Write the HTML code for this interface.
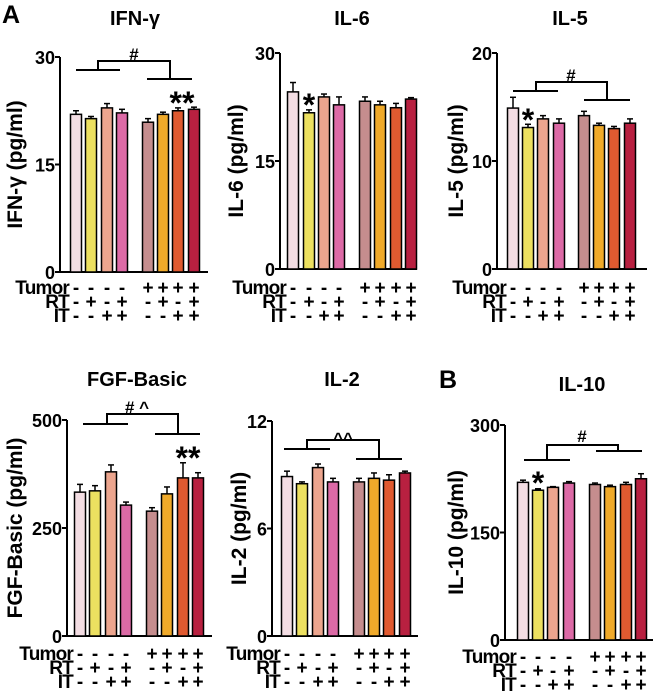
<!DOCTYPE html>
<html><head><meta charset="utf-8"><style>
body{margin:0;background:#fff}
svg{display:block;font-family:"Liberation Sans",Arial,sans-serif;font-weight:bold}
</style></head><body>
<svg id="fig" width="655" height="691" viewBox="0 0 655 691" xmlns="http://www.w3.org/2000/svg"></svg>
<script>
const groupColors = ["#f3dde3","#ece060","#eca58e","#dc6aa6","#c58d8e","#f0aa2a","#e05a30","#b82040"];
const tumorSigns = ["-","-","-","-","+","+","+","+"];
const rtSigns = ["-","+","-","+","-","+","-","+"];
const itSigns = ["-","-","+","+","-","-","+","+"];
const ifnValues = [22.0,21.4,22.9,22.2,20.9,22.0,22.5,22.7];
const ifnErrors = [0.5,0.3,0.6,0.5,0.5,0.3,0.4,0.3];
const ifnTicks = [0,15,30];
const il6Values = [24.6,21.7,23.9,22.8,23.3,22.8,22.4,23.6];
const il6Errors = [1.3,0.4,0.4,1.1,0.6,0.5,0.6,0.2];
const il6Ticks = [0,15,30];
const il5Values = [14.9,13.1,13.9,13.5,14.2,13.3,13.0,13.5];
const il5Errors = [1.0,0.3,0.3,0.4,0.4,0.2,0.2,0.4];
const il5Ticks = [0,10,20];
const fgfValues = [333,336,380,303,289,329,366,366];
const fgfErrors = [18,12,16,7,8,16,35,12];
const fgfTicks = [0,250,500];
const il2Values = [8.9,8.5,9.4,8.6,8.6,8.8,8.7,9.1];
const il2Errors = [0.3,0.1,0.2,0.2,0.2,0.3,0.3,0.1];
const il2Ticks = [0,6,12];
const il10Values = [220,209,213,219,217,214,217,225];
const il10Errors = [3,2,1,2,2,2,3,7];
const il10Ticks = [0,150,300];

const NS="http://www.w3.org/2000/svg";
const svg=document.getElementById('fig');
function mk(tag,attrs,parent){const e=document.createElementNS(NS,tag);for(const k in attrs)e.setAttribute(k,attrs[k]);(parent||svg).appendChild(e);return e;}
function txt(s,x,y,size,anchor,parent){const t=mk('text',{x:x,y:y,'font-size':size,'text-anchor':anchor||'middle',fill:'#000'},parent);t.textContent=s;return t;}

const panels=[
 {name:'ifn',title:'IFN-γ',ytitle:'IFN-γ (pg/ml)',vals:ifnValues,errs:ifnErrors,ticks:ifnTicks,ax:60,y0:272,ytop:57,xs:[76,91,107,122,148,163,178,194],xend:208,rows:[287,301,315],tx:135,ty:25,ytx:14,
  br:{l:[76,120,70],r:[147,192,79],c:[98,170,61],lab:'#',labx:134,laby:60},stars:{s:'**',x:182,y:114,size:32}},
 {name:'il6',title:'IL-6',ytitle:'IL-6 (pg/ml)',vals:il6Values,errs:il6Errors,ticks:il6Ticks,ax:280,y0:269,ytop:53,xs:[293,309,324,339,365,380,396,411],xend:417,rows:[287,301,315],tx:352,ty:25,ytx:235,
  stars:{s:'*',x:309,y:116,size:32}},
 {name:'il5',title:'IL-5',ytitle:'IL-5 (pg/ml)',vals:il5Values,errs:il5Errors,ticks:il5Ticks,ax:497,y0:269,ytop:53,xs:[513,528,543,559,584,599,614,630],xend:647,rows:[287,301,315],tx:570,ty:25,ytx:455,
  br:{l:[513,558,91],r:[584,630,100],c:[536,607,82],lab:'#',labx:571,laby:81},stars:{s:'*',x:528,y:131,size:32}},
 {name:'fgf',title:'FGF-Basic',ytitle:'FGF-Basic (pg/ml)',vals:fgfValues,errs:fgfErrors,ticks:fgfTicks,ax:67,y0:636,ytop:420,xs:[80,95,111,126,152,167,183,198],xend:212,rows:[653,667,681],tx:137,ty:386,ytx:14,
  br:{l:[83,128,424],r:[155,200,434],c:[107,178,414],lab:'# ^',labx:137,laby:413},stars:{s:'**',x:188,y:469,size:32}},
 {name:'il2',title:'IL-2',ytitle:'IL-2 (pg/ml)',vals:il2Values,errs:il2Errors,ticks:il2Ticks,ax:272,y0:636,ytop:421,xs:[287,302,318,333,359,374,389,405],xend:418,rows:[653,667,681],tx:342,ty:386,ytx:238,
  br:{l:[284,330,449],r:[356,402,459],c:[307,379,440],lab:'^^',labx:343,laby:444}},
 {name:'il10',title:'IL-10',ytitle:'IL-10 (pg/ml)',vals:il10Values,errs:il10Errors,ticks:il10Ticks,ax:505,y0:640,ytop:425,xs:[523,538,553,569,595,610,626,641],xend:653,rows:[656,670,684],tx:582,ty:391,ytx:455,
  br:{l:[524,570,460],r:[596,642,451],c:[547,618,445],lab:'#',labx:582,laby:442},stars:{s:'*',x:538,y:494,size:32}}
];

panels.forEach(p=>{
 const g=mk('g',{});
 
 
 const max=p.ticks[p.ticks.length-1];
 const yS=v=>p.y0-(v/max)*(p.y0-p.ytop);
 const t=txt(p.title,p.tx,p.ty,20,'middle',g);
 
 const yt=txt(p.ytitle,0,0,21,'middle',g);
 yt.setAttribute('transform','translate('+(p.ytx+8)+','+((p.y0+p.ytop)/2)+') rotate(-90)');
 
 const ya=mk('line',{x1:p.ax,y1:p.ytop,x2:p.ax,y2:p.y0,stroke:'#000','stroke-width':2},g);
 
 const xa=mk('line',{x1:p.ax-1,y1:p.y0,x2:p.xend,y2:p.y0,stroke:'#000','stroke-width':2},g);
 
 p.ticks.forEach(tv=>{
  const y=yS(tv);
  mk('line',{x1:p.ax-5,y1:y,x2:p.ax,y2:y,stroke:'#000','stroke-width':2},g);
  const tl=txt(String(tv),p.ax-5,y+7,18,'end',g);
  
 });
 p.vals.forEach((v,i)=>{
  const x=p.xs[i],yt2=yS(v),ye=yS(v+p.errs[i]);
  mk('line',{x1:x,y1:ye,x2:x,y2:yt2,stroke:'#000','stroke-width':1.5},g);
  mk('line',{x1:x-3,y1:ye,x2:x+3,y2:ye,stroke:'#000','stroke-width':1.5},g);
  const r=mk('rect',{x:x-5.5,y:yt2,width:11,height:p.y0-yt2,fill:groupColors[i],stroke:'#000','stroke-width':1.5},g);
  
 });
 const rowNames=['Tumor','RT','IT'],rowSigns=[tumorSigns,rtSigns,itSigns];
 rowNames.forEach((rn,ri)=>{
  const lt=txt(rn,p.xs[0]-7,p.rows[ri]+7,19,'end',g);
  lt.setAttribute('letter-spacing','-0.8');
  
  rowSigns[ri].forEach((s,i)=>{txt(s,p.xs[i],p.rows[ri]+7,19,'middle',g);});
 });
 if(p.br){
  const b=p.br;
  const pth=mk('path',{d:'M'+b.l[0]+' '+b.l[2]+'H'+b.l[1]+'M'+b.r[0]+' '+b.r[2]+'H'+b.r[1]+'M'+b.c[0]+' '+b.l[2]+'V'+b.c[2]+'H'+b.c[1]+'V'+b.r[2],fill:'none',stroke:'#000','stroke-width':2},g);
  
  const bl=txt(b.lab,b.labx,b.laby,17,'middle',g);
  
 }
 if(p.stars){
  const st=txt(p.stars.s,p.stars.x,p.stars.y,p.stars.size,'middle',g);
  
 }
});
const A=txt('A',11,23,25,'middle');

const B=txt('B',448,388,25,'middle');

</script>
</body></html>
